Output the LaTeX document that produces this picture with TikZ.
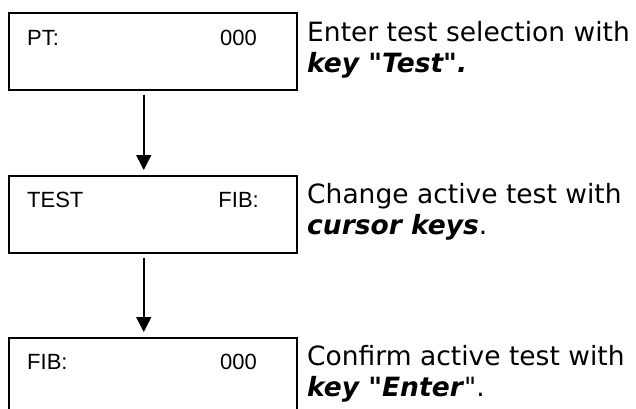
\documentclass[tikz,border=0pt]{standalone}
\usepackage{fontspec}
\setmainfont{Liberation Sans}
\newfontfamily\descfont{DejaVu Sans}
\usetikzlibrary{arrows.meta,positioning}

\begin{document}
\begin{tikzpicture}[x=1pt, y=-1pt, >={Triangle[length=15pt,width=15pt]},
   display/.style={draw, line width=1.5pt, minimum width=288pt, minimum height=77pt, inner sep=0pt, anchor=north west},
   lcd/.style={inner sep=0pt, font=\fontsize{22}{26}\selectfont},
   desc/.style={inner sep=0pt, anchor=base west, align=left, font=\descfont\fontsize{26.5}{31}\selectfont}]
\clip (0,0) rectangle (636,408);

% displays
\node [display] (pt) at (8,12) {};
\node [display] (test) at (8,175) {};
\node [display] (fib) at (8,337) {};

\node [lcd, anchor=base west] (ptL) at (27,45) {PT:};
\node [lcd, anchor=base east] (ptR) at (257,45) {000};
\node [lcd, anchor=base west] (testL) at (27,207) {TEST};
\node [lcd, anchor=base east] (testR) at (259,207) {FIB:};
\node [lcd, anchor=base west] (fibL) at (27,369) {FIB:};
\node [lcd, anchor=base east] (fibR) at (257,369) {000};

% arrows
\draw [->, line width=1.5pt]([xshift=-9pt, yshift=-4pt]pt.south)--([xshift=-9pt, yshift=5pt]test.north);
\draw [->, line width=1.5pt]([xshift=-9pt, yshift=-4pt]test.south)--([xshift=-9pt, yshift=5pt]fib.north);

% descriptions (anchored on the second line)
\node [desc] (ptD) at (307,72) {Enter test selection with\\\textbf{\textit{key "Test".}}};
\node [desc] (testD) at (307,234) {Change active test with\\\textbf{\textit{cursor keys}}.};
\node [desc] (fibD) at (307,396) {Confirm active test with\\\textbf{\textit{key "Enter}}".};
\end{tikzpicture}
\end{document}
